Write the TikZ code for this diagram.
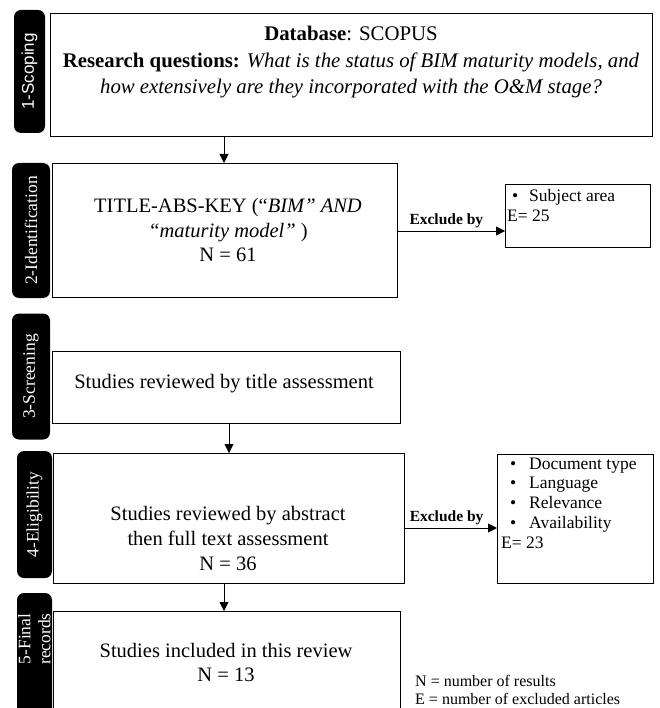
\documentclass[tikz,border=0pt]{standalone}
\usepackage{fontspec}
\setmainfont{Liberation Serif}
\newfontfamily\labelsans{Liberation Sans}
\usetikzlibrary{arrows.meta}

\begin{document}
\begin{tikzpicture}[x=1pt,y=-1pt,
  stage/.style={fill=black, rounded corners=7pt, text=white, rotate=90,
    inner sep=0pt, align=center, font=\fontsize{17.5}{18}\selectfont},
  box/.style={draw=black, line width=1.3pt, anchor=north west, inner sep=0pt},
  boxtext/.style={align=center, inner sep=0pt, font=\fontsize{20.5}{24.8}\selectfont},
  exbox/.style={draw=black, line width=1.3pt, anchor=north west, inner sep=0pt},
  extext/.style={anchor=north west, align=left, inner sep=0pt,
    font=\fontsize{17.5}{19.8}\selectfont},
  flow/.style={-{Triangle[length=9pt,width=9pt]}, line width=0.8pt},
  exlabel/.style={above, inner sep=3pt, font=\fontsize{15.5}{16}\selectfont\bfseries},
  ]
\useasboundingbox (0,0) rectangle (659,708);

% stage labels on the left
\node[stage, minimum width=123, minimum height=31, font=\fontsize{17}{18}\selectfont\labelsans]
  (s1) at (29.5,71.5) {1-Scoping};
\node[stage, minimum width=135, minimum height=38] (s2) at (31,230.5) {2-Identification};
\node[stage, minimum width=126, minimum height=38] (s3) at (31,376.5) {3-Screening};
\node[stage, minimum width=127, minimum height=35] (s4) at (34.5,514.5) {4-Eligibility};
\fill[rounded corners=7pt] (17,593) rectangle (52,730);
\node[stage, fill=none, font=\fontsize{17.5}{20}\selectfont] (s5) at (34.5,639) {5-Final\\records};

% main flow boxes
\node[box, minimum width=602, minimum height=123] (b1) at (50,13) {};
\node[boxtext, font=\fontsize{20.8}{26.5}\selectfont] (b1t) at (351,62.5)
  {\textbf{Database}: SCOPUS\\
   \textbf{Research questions:} \textit{What is the status of BIM maturity models, and}\\
   \textit{how extensively are they incorporated with the O\&M stage?}};

\node[box, minimum width=345, minimum height=134] (b2) at (52,163) {};
\node[boxtext] (b2t) at (228,230)
  {TITLE-ABS-KEY (“\textit{BIM" AND}\\ \textit{“maturity model”} )\\ N = 61};

\node[box, minimum width=348, minimum height=72] (b3) at (52,351) {};
\node[boxtext] (b3t) at (224,384)
  {Studies reviewed by title assessment};

\node[box, minimum width=351, minimum height=130] (b4) at (53,453) {};
\node[boxtext] (b4t) at (228,538.5)
  {Studies reviewed by abstract\\ then full text assessment\\ N = 36};

\node[box, minimum width=347, minimum height=110] (b5) at (53,611) {};
\node[boxtext] (b5t) at (226,662.5)
  {Studies included in this review\\ N = 13};

% exclusion boxes
\node[exbox, minimum width=145, minimum height=63] (x1) at (505,184) {};
\node[extext] (x1t) at (507,189)
  {\hspace*{5pt}\makebox[17pt][l]{\textbullet}Subject area\\E= 25};

\node[exbox, minimum width=156, minimum height=129] (x2) at (497,454) {};
\node[extext] (x2t) at (501,457.5)
  {\hspace*{9pt}\makebox[19pt][l]{\textbullet}Document type\\
   \hspace*{9pt}\makebox[19pt][l]{\textbullet}Language\\
   \hspace*{9pt}\makebox[19pt][l]{\textbullet}Relevance\\
   \hspace*{9pt}\makebox[19pt][l]{\textbullet}Availability\\
   E= 23};

% connectors
\draw[flow] (b1.south -| 224,0) -- (b2.north -| 224,0);
\draw[flow] (b3.south -| 229,0) -- (b4.north -| 229,0);
\draw[flow] (b4.south -| 224,0) -- (b5.north -| 224,0);
\draw[flow] (b2.east |- 0,231) -- node[exlabel, pos=0.45] {Exclude by} (x1.west |- 0,231);
\draw[flow] (b4.east |- 0,528) -- node[exlabel, pos=0.45] {Exclude by} (x2.west |- 0,528);

% legend
\node[anchor=west, align=left, inner sep=0pt, font=\fontsize{16}{18.5}\selectfont] (leg) at (415,690)
  {N = number of results\\E = number of excluded articles};
\end{tikzpicture}
\end{document}
